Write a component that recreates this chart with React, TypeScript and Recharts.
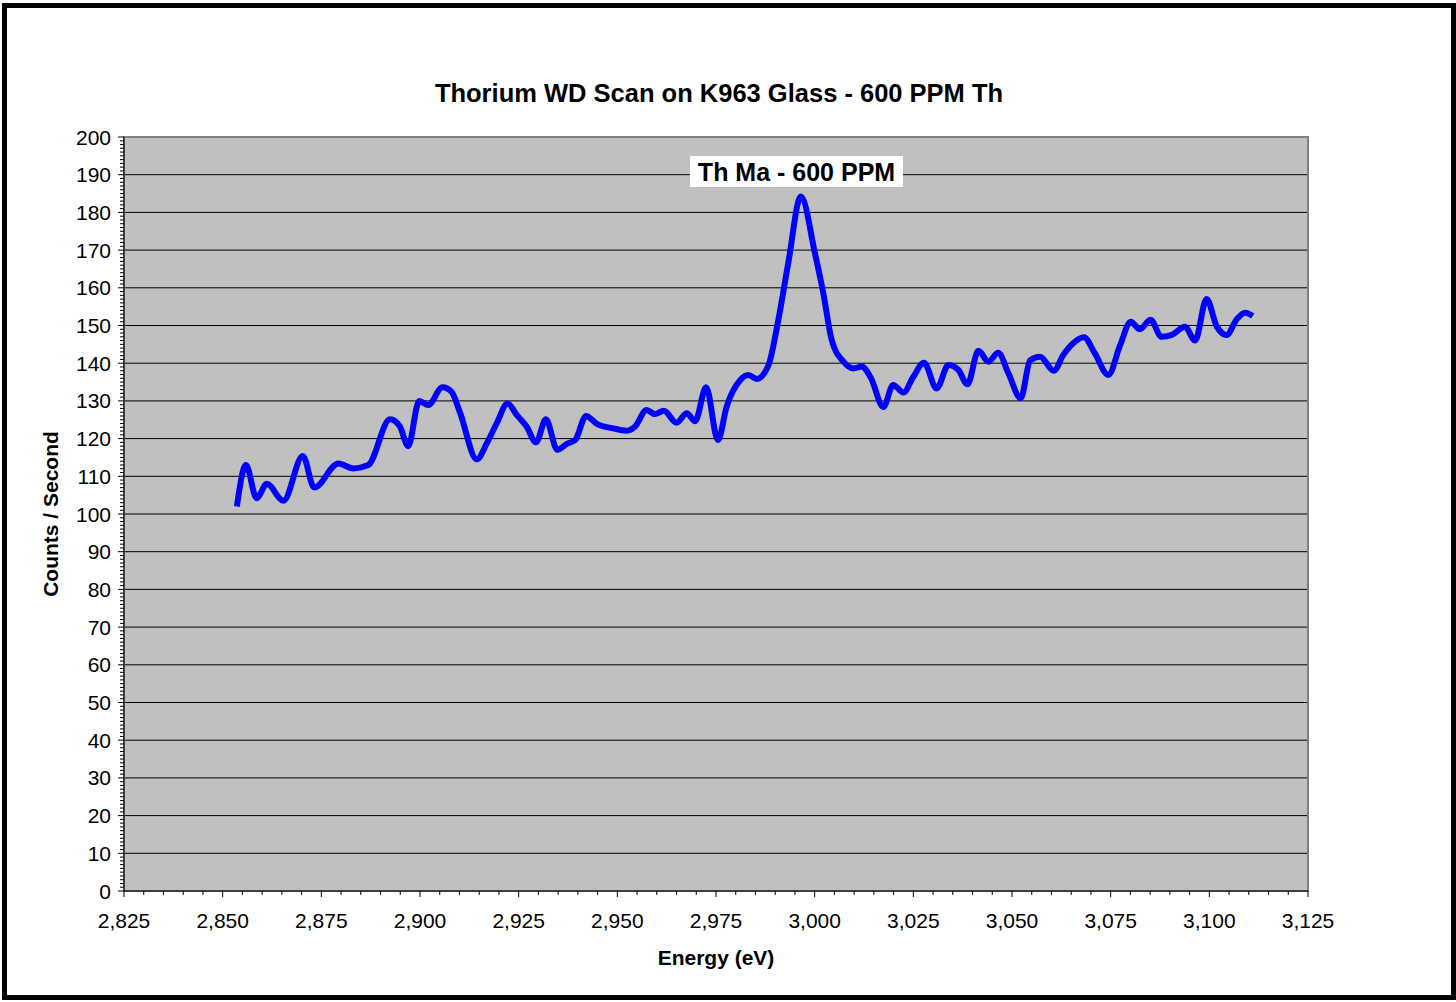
import React from "react";
import { LineChart, Line, XAxis, YAxis, CartesianGrid, ReferenceArea } from "recharts";

// WD scan readings (eV, counts/s)
const energy = [
  2853.6, 2855.9, 2858.6, 2861.2, 2865.4, 2870.3, 2873.2, 2879.3, 2883.1, 2886.9,
  2892.4, 2894.9, 2897.0, 2899.8, 2902.1, 2905.7, 2908.0, 2910.1, 2914.4, 2916.9,
  2919.4, 2922.2, 2924.5, 2927.0, 2929.4, 2931.9, 2934.8, 2937.2, 2939.3, 2942.1,
  2944.8, 2949.0, 2952.4, 2954.5, 2957.4, 2959.5, 2961.8, 2965.0, 2967.6, 2969.7,
  2972.5, 2975.5, 2977.7, 2981.1, 2983.2, 2985.3, 2988.3, 2990.8, 2993.3, 2996.5,
  3000.1, 3002.2, 3004.3, 3007.3, 3009.8, 3011.9, 3014.2, 3017.4, 3019.9, 3022.5,
  3025.0, 3027.7, 3030.9, 3033.9, 3036.4, 3038.7, 3041.5, 3044.0, 3046.5, 3049.1,
  3052.2, 3054.6, 3057.1, 3060.6, 3063.0, 3065.5, 3068.2, 3071.0, 3074.4, 3077.4,
  3080.1, 3082.4, 3085.1, 3087.9, 3090.5, 3093.8, 3096.4, 3099.3, 3101.9, 3104.4,
  3106.9, 3109.1, 3111.0,
];
const counts = [
  102, 113, 104.2, 108, 103.5, 115.4, 107, 113.4, 112.1, 113,
  125.1, 123.2, 118, 130, 128.9, 133.6, 132.4, 127, 114.5, 118.7,
  124, 129.3, 126.3, 123.2, 119, 125.1, 117, 118.6, 119.6, 126,
  123.9, 122.7, 122.1, 123.2, 127.6, 126.5, 127.4, 124.2, 126.7, 124.6,
  133.6, 119.6, 128.5, 135.5, 136.9, 135.8, 139.5, 151.5, 166.5, 184.2,
  169, 158.5, 146.2, 140.4, 138.6, 139.1, 136.2, 128.4, 134.2, 132.2,
  136.4, 140.1, 133.3, 139.5, 138.2, 134.4, 143.3, 140.4, 142.8, 137.3,
  130.7, 140.8, 141.7, 138, 142.2, 145.3, 146.9, 142.6, 136.9, 144.8,
  151, 149, 151.5, 147, 147.5, 149.7, 146, 157, 149.7, 147.5,
  151.6, 153.4, 152.5,
];

const xLabels = [2825, 2850, 2875, 2900, 2925, 2950, 2975, 3000, 3025, 3050, 3075, 3100, 3125];
const yLabels = [0, 10, 20, 30, 40, 50, 60, 70, 80, 90, 100, 110, 120, 130, 140, 150, 160, 170, 180, 190, 200];

const data = energy.map((e, i) => ({ energy: e, counts: counts[i] }));
const xMinor = Array.from({ length: 61 }, (_, i) => 2825 + i * 5);
const yMinor = Array.from({ length: 201 }, (_, i) => i);

const FONT = "'Liberation Sans', Arial, sans-serif";

function XTick(props: any) {
  const { x, y, payload } = props;
  const major = xLabels.includes(payload.value);
  return (
    <g>
      <line x1={x} x2={x} y1={y} y2={y + (major ? 6 : 4)} stroke="#000" />
      {major && (
        <text x={x} y={y + 37} textAnchor="middle" fontSize={21} fontFamily={FONT} fill="#000">
          {payload.value.toLocaleString("en-US")}
        </text>
      )}
    </g>
  );
}

function YTick(props: any) {
  const { x, y, payload } = props;
  const major = yLabels.includes(payload.value);
  return (
    <g>
      <line x1={x - (major ? 6 : 4)} x2={x} y1={y} y2={y} stroke="#000" />
      {major && (
        <text x={x - 13} y={y} dy="0.36em" textAnchor="end" fontSize={21} fontFamily={FONT} fill="#000">
          {payload.value}
        </text>
      )}
    </g>
  );
}

export default function App() {
  return (
    <div style={{ position: "absolute", left: 0, top: 0, width: 1456, height: 1002, background: "#fff", fontFamily: FONT }}>
      <LineChart
        width={1456}
        height={1002}
        data={data}
        margin={{ top: 137, right: 148, bottom: 71, left: 64 }}
      >
        <CartesianGrid vertical={false} fill="#C0C0C0" stroke="#000" horizontalValues={yLabels} />
        <ReferenceArea x1={2825} x2={3125} y1={0} y2={200} fill="none" stroke="#808080" strokeWidth={2} />
        <XAxis
          dataKey="energy"
          type="number"
          domain={[2825, 3125]}
          ticks={xMinor}
          interval={0}
          tick={<XTick />}
          tickLine={false}
          tickSize={0}
          tickMargin={0}
          height={40}
          axisLine={{ stroke: "#000" }}
        />
        <YAxis
          type="number"
          domain={[0, 200]}
          ticks={yMinor}
          interval={0}
          tick={<YTick />}
          tickLine={false}
          tickSize={0}
          tickMargin={0}
          width={60}
          axisLine={{ stroke: "#000" }}
        />
        <Line
          dataKey="counts"
          type="monotone"
          stroke="#0000FF"
          strokeWidth={6}
          dot={false}
          isAnimationActive={false}
        />
      </LineChart>

      <div style={{ position: "absolute", left: 2, top: 3, width: 1454, height: 997, border: "5px solid #000", boxSizing: "border-box", pointerEvents: "none" }} />

      <div style={{ position: "absolute", left: 719, top: 78, transform: "translateX(-50%)", whiteSpace: "nowrap", fontSize: 25.5, fontWeight: "bold", lineHeight: "30px" }}>
        Thorium WD Scan on K963 Glass - 600 PPM Th
      </div>

      <div style={{ position: "absolute", left: 690, top: 156, width: 213, height: 31, background: "#fff", fontSize: 25, fontWeight: "bold", lineHeight: "32px", textAlign: "center", whiteSpace: "nowrap" }}>
        Th Ma - 600 PPM
      </div>

      <div style={{ position: "absolute", left: 51, top: 514, transform: "translate(-50%, -50%) rotate(-90deg)", whiteSpace: "nowrap", fontSize: 21, fontWeight: "bold", lineHeight: "24px" }}>
        Counts / Second
      </div>

      <div style={{ position: "absolute", left: 716, top: 958, transform: "translate(-50%, -50%)", whiteSpace: "nowrap", fontSize: 21, fontWeight: "bold", lineHeight: "24px" }}>
        Energy (eV)
      </div>
    </div>
  );
}
